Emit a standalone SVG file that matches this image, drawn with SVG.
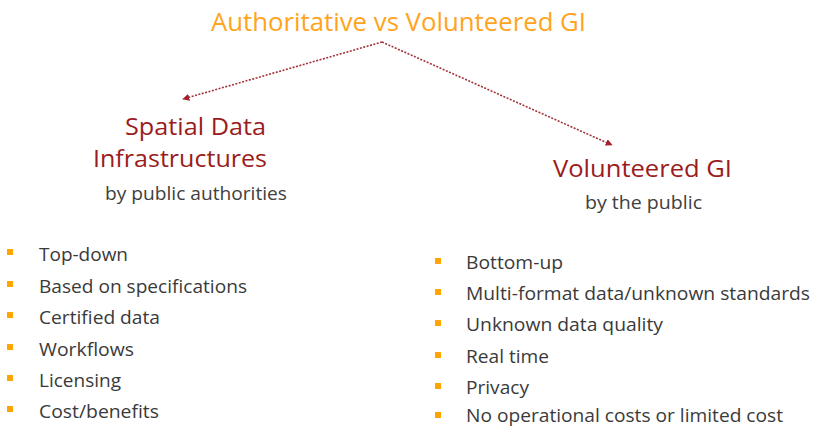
<svg xmlns="http://www.w3.org/2000/svg" width="815" height="428" viewBox="0 0 815 428">
<style>
text{font-family:"Open Sans","Liberation Sans",sans-serif}
.title{fill:#FFA41C;font-size:26px}
.head{fill:#9A1C20;font-size:24px}
.sub{fill:#404040;font-size:18px}
.item{fill:#3A3A3A;font-size:17.5px}
.bul{fill:#FFA500}
.conn{stroke:#A3333A;stroke-width:1.6;stroke-dasharray:2 1.5;fill:none}
</style>
<defs>
<marker id="arr" viewBox="0 0 10 10" refX="9" refY="5" markerWidth="7" markerHeight="7" orient="auto" markerUnits="userSpaceOnUse">
<path d="M0,0 L10,5 L0,10 z" fill="#A3222A"/>
</marker>
</defs>
<rect width="815" height="428" fill="#fff"/>
<g id="title"><text class="title" x="211" y="31" textLength="375" lengthAdjust="spacingAndGlyphs">Authoritative vs Volunteered GI</text></g>
<g id="connectors">
<path class="conn" d="M382,42 L183,99" marker-end="url(#arr)"/>
<path class="conn" d="M382,42 L612,145" marker-end="url(#arr)"/>
</g>
<g id="sdi">
<text class="head" x="125" y="135" textLength="141" lengthAdjust="spacingAndGlyphs">Spatial Data</text>
<text class="head" x="93" y="167" textLength="174" lengthAdjust="spacingAndGlyphs">Infrastructures</text>
<text class="sub" x="105" y="200" textLength="182" lengthAdjust="spacingAndGlyphs">by public authorities</text>
</g>
<g id="vgi">
<text class="head" x="553" y="177" textLength="179" lengthAdjust="spacingAndGlyphs">Volunteered GI</text>
<text class="sub" x="585" y="209" textLength="117" lengthAdjust="spacingAndGlyphs">by the public</text>
</g>
<g id="sdi-list">
<rect class="bul" x="7" y="249" width="6" height="6"/><text class="item" x="39" y="261" textLength="89" lengthAdjust="spacingAndGlyphs">Top-down</text>
<rect class="bul" x="7" y="281" width="6" height="6"/><text class="item" x="39" y="293" textLength="208" lengthAdjust="spacingAndGlyphs">Based on specifications</text>
<rect class="bul" x="7" y="312" width="6" height="6"/><text class="item" x="39" y="324" textLength="121" lengthAdjust="spacingAndGlyphs">Certified data</text>
<rect class="bul" x="7" y="344" width="6" height="6"/><text class="item" x="39" y="356" textLength="95" lengthAdjust="spacingAndGlyphs">Workflows</text>
<rect class="bul" x="7" y="375" width="6" height="6"/><text class="item" x="39" y="387" textLength="82" lengthAdjust="spacingAndGlyphs">Licensing</text>
<rect class="bul" x="7" y="406" width="6" height="6"/><text class="item" x="39" y="418" textLength="120" lengthAdjust="spacingAndGlyphs">Cost/benefits</text>
</g>
<g id="vgi-list">
<rect class="bul" x="435" y="258" width="6" height="6"/><text class="item" x="466" y="269" textLength="97" lengthAdjust="spacingAndGlyphs">Bottom-up</text>
<rect class="bul" x="435" y="289" width="6" height="6"/><text class="item" x="466" y="300" textLength="344" lengthAdjust="spacingAndGlyphs">Multi-format data/unknown standards</text>
<rect class="bul" x="435" y="320" width="6" height="6"/><text class="item" x="466" y="331" textLength="197" lengthAdjust="spacingAndGlyphs">Unknown data quality</text>
<rect class="bul" x="435" y="352" width="6" height="6"/><text class="item" x="466" y="363" textLength="83" lengthAdjust="spacingAndGlyphs">Real time</text>
<rect class="bul" x="435" y="383" width="6" height="6"/><text class="item" x="466" y="394" textLength="63" lengthAdjust="spacingAndGlyphs">Privacy</text>
<rect class="bul" x="435" y="412" width="6" height="6"/><text class="item" x="466" y="422" textLength="317" lengthAdjust="spacingAndGlyphs">No operational costs or limited cost</text>
</g>
</svg>
